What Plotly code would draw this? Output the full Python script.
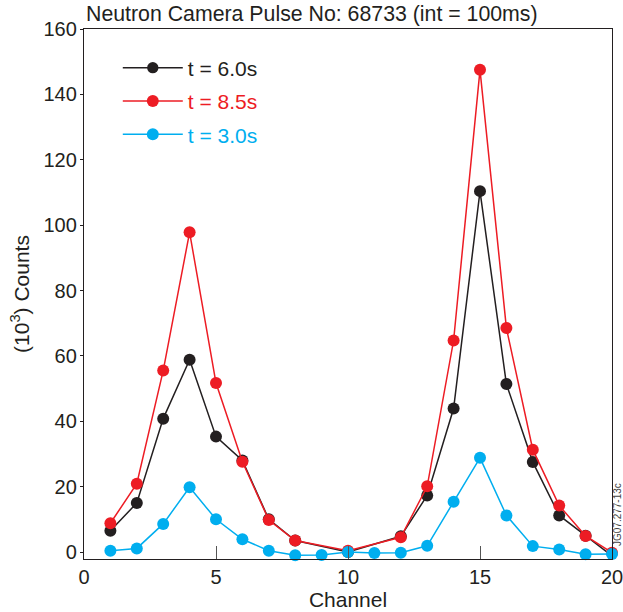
import plotly.graph_objects as go

# ---- data ----
ch_black = [1, 2, 3, 4, 5, 6, 7, 8, 10, 12, 13, 14, 15, 16, 17, 18, 19, 20]
counts_black = [6.5, 15.0, 40.8, 58.8, 35.3, 28.0, 10.0, 3.5, 0.0, 4.8, 17.3, 43.9, 110.4, 51.4, 27.5, 11.2, 5.0, -1.2]

ch_red = [1, 2, 3, 4, 5, 6, 7, 8, 10, 12, 13, 14, 15, 16, 17, 18, 19, 20]
counts_red = [8.8, 20.9, 55.5, 97.8, 51.7, 27.6, 9.8, 3.5, 0.4, 4.5, 20.1, 64.7, 147.5, 68.5, 31.3, 14.2, 4.9, -0.2]

ch_blue = [1, 2, 3, 4, 5, 6, 7, 8, 9, 10, 11, 12, 13, 14, 15, 16, 17, 18, 19, 20]
counts_blue = [0.4, 1.1, 8.6, 19.8, 10.0, 3.9, 0.4, -1.0, -0.9, 0.0, -0.3, -0.2, 1.9, 15.4, 28.8, 11.2, 1.8, 0.8, -0.7, -0.6]

names = ["t = 6.0s", "t = 8.5s", "t = 3.0s"]
colors = ["#231f20", "#ed1c24", "#00aeef"]

x_ticks = [0, 5, 10, 15, 20]
y_ticks = [0, 20, 40, 60, 80, 100, 120, 140, 160]

FONT = "Liberation Sans, Arial, Helvetica, sans-serif"

fig = go.Figure()
series = [(ch_black, counts_black), (ch_red, counts_red), (ch_blue, counts_blue)]
for i, ((xs, ys), nm, col) in enumerate(zip(series, names, colors)):
    sizes = [12] * len(xs)
    if i == 0:
        sizes[-1] = 0  # last black point has no visible marker
    fig.add_trace(go.Scatter(
        x=xs, y=ys, mode="lines+markers",
        name=f"<span style='color:{col}'>{nm}</span>",
        legendgroup=f"g{i}",
        line=dict(color=col, width=1.5),
        marker=dict(color=col, size=sizes, opacity=1, line=dict(width=0)),
        cliponaxis=False,
    ))

fig.update_layout(
    width=623, height=612,
    margin=dict(l=84, r=11, t=29, b=53, autoexpand=False),
    paper_bgcolor="white", plot_bgcolor="white",
    font=dict(family=FONT, size=20, color="#231f20"),
    title=dict(text="Neutron Camera Pulse No: 68733 (int = 100ms)",
               x=86/623, xanchor="left", xref="container",
               y=1-14/612, yanchor="middle", yref="container",
               font=dict(size=21.3, color="#231f20")),
    showlegend=True,
    legend=dict(x=0.064, y=0.965, xanchor="left", yanchor="top",
                bgcolor="rgba(0,0,0,0)", font=dict(size=21),
                itemwidth=60, tracegroupgap=3, traceorder="grouped"),
    xaxis=dict(range=[0, 20], tickvals=x_ticks, ticks="inside", ticklen=13,
               tickcolor="#555", tickwidth=1.3, showline=True, linecolor="#231f20",
               linewidth=1.3, mirror=True, showgrid=False, zeroline=False,
               automargin=True, ticklabeloverflow="allow",
               title=dict(text="Channel", standoff=3, font=dict(size=21)),
               tickfont=dict(size=20)),
    yaxis=dict(range=[-2.14, 160], tickvals=y_ticks, ticks="outside", ticklen=3,
               tickcolor="#231f20", tickwidth=1.3, showline=True, linecolor="#231f20",
               linewidth=1.3, mirror=True, showgrid=False, zeroline=False,
               automargin=True, ticklabelstandoff=-1, ticklabeloverflow="allow",
               title=dict(text="(10<sup>3</sup>) Counts", standoff=8, font=dict(size=21)),
               tickfont=dict(size=20)),
    annotations=[dict(text="JG07.277-13c", x=(617-84)/528, y=(559-515)/530,
                      xref="paper", yref="paper",
                      showarrow=False, textangle=-90, font=dict(size=10, color="#444"),
                      xanchor="center", yanchor="middle")],
)

fig.write_html("out.html")
